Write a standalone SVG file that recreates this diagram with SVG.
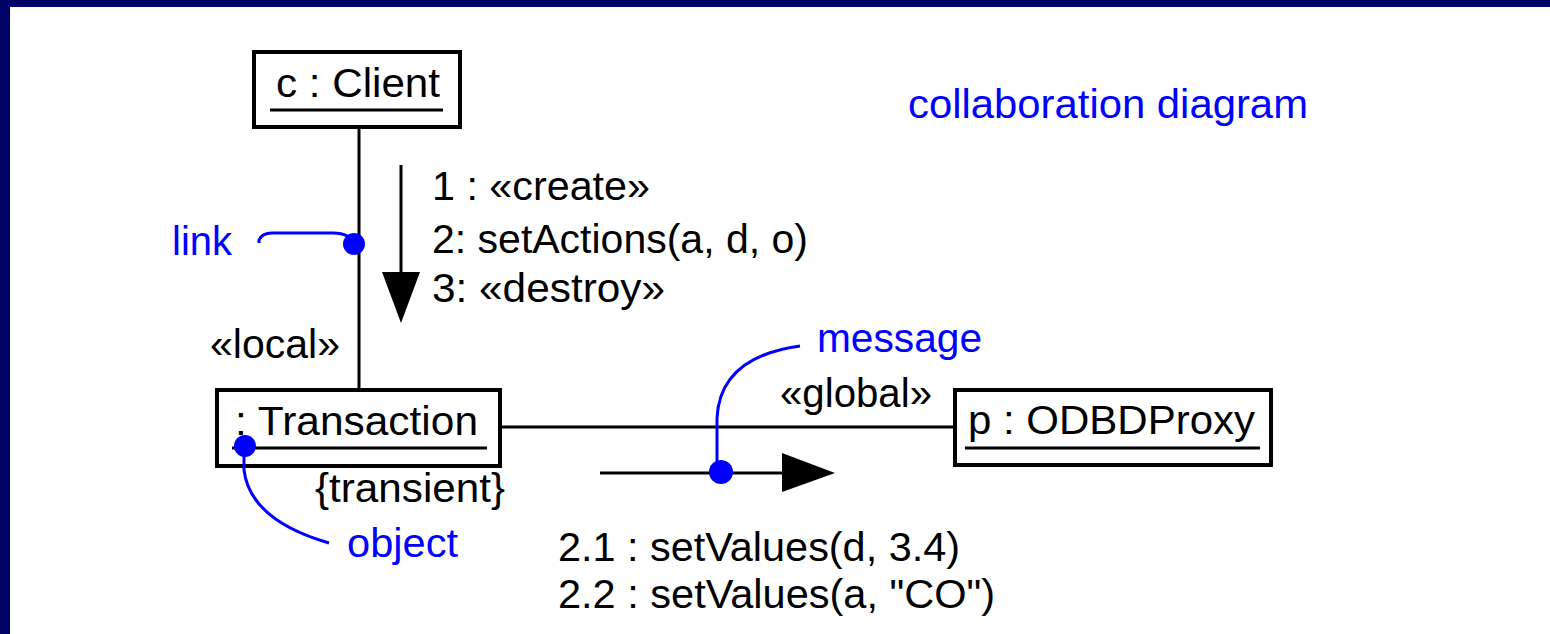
<svg xmlns="http://www.w3.org/2000/svg" width="1550" height="634" viewBox="0 0 1550 634">
  <style>
    .frame { fill: #000066; }
    .box { fill: #ffffff; stroke: #000000; stroke-width: 4; }
    .uline { stroke: #000000; stroke-width: 3; }
    .conn { fill: none; stroke: #000000; stroke-width: 3; }
    .head { fill: #000000; stroke: none; }
    .note { fill: none; stroke: #0000ff; stroke-width: 3; }
    .dot { fill: #0000ff; }
    text { font-family: "Liberation Sans", Arial, sans-serif; font-size: 40px; fill: #000000; }
    .name { font-size: 41px; }
    .blue { fill: #0000ff; }
  </style>

  <!-- page background and frame bars -->
  <rect x="0" y="0" width="1550" height="634" fill="#ffffff"/>
  <rect class="frame" x="0" y="0" width="1550" height="7"/>
  <rect class="frame" x="0" y="0" width="10" height="634"/>

  <!-- links between objects -->
  <g id="connectors">
    <line class="conn" x1="359" y1="129" x2="359" y2="389"/>
    <line class="conn" x1="501" y1="427" x2="954" y2="427"/>
    <text x="210" y="358" textLength="130" lengthAdjust="spacingAndGlyphs">«local»</text>
    <text x="780" y="407" textLength="152" lengthAdjust="spacingAndGlyphs">«global»</text>
  </g>

  <!-- objects -->
  <g id="client">
    <rect class="box" x="254" y="52" width="206" height="75"/>
    <text class="name" x="276" y="97" textLength="164" lengthAdjust="spacingAndGlyphs">c : Client</text>
    <line class="uline" x1="270" y1="110" x2="443" y2="110"/>
  </g>

  <g id="transaction">
    <rect class="box" x="217" y="390" width="283" height="76"/>
    <text class="name" x="235" y="435" textLength="243" lengthAdjust="spacingAndGlyphs">: Transaction</text>
    <line class="uline" x1="232" y1="448" x2="487" y2="448"/>
    <text x="315" y="502" textLength="190" lengthAdjust="spacingAndGlyphs">{transient}</text>
  </g>

  <g id="proxy">
    <rect class="box" x="955" y="390" width="316" height="75"/>
    <text class="name" x="968" y="434" textLength="287" lengthAdjust="spacingAndGlyphs">p : ODBDProxy</text>
    <line class="uline" x1="965" y1="448" x2="1260" y2="448"/>
  </g>

  <!-- messages -->
  <g id="msg-client-transaction">
    <line class="conn" x1="401" y1="165" x2="401" y2="274"/>
    <polygon class="head" points="382,272 420,272 401,323"/>
    <text x="432" y="200" textLength="218" lengthAdjust="spacingAndGlyphs">1 : «create»</text>
    <text x="432" y="253" textLength="376" lengthAdjust="spacingAndGlyphs">2: setActions(a, d, o)</text>
    <text x="432" y="302" textLength="233" lengthAdjust="spacingAndGlyphs">3: «destroy»</text>
  </g>

  <g id="msg-transaction-proxy">
    <line class="conn" x1="600" y1="473" x2="784" y2="473"/>
    <polygon class="head" points="782,453 782,492 835,473"/>
    <text x="558" y="561" textLength="402" lengthAdjust="spacingAndGlyphs">2.1 : setValues(d, 3.4)</text>
    <text x="558" y="608" textLength="437" lengthAdjust="spacingAndGlyphs">2.2 : setValues(a, "CO")</text>
  </g>

  <!-- annotations -->
  <g id="title">
    <text class="blue" x="908" y="118" textLength="400" lengthAdjust="spacingAndGlyphs">collaboration diagram</text>
  </g>

  <g id="note-link">
    <path class="note" d="M259,243 L259,240 Q262,233 272,233 L333,233 Q350,233 354,244"/>
    <circle class="dot" cx="354" cy="244" r="11"/>
    <text class="blue" x="172" y="255" textLength="60" lengthAdjust="spacingAndGlyphs">link</text>
  </g>

  <g id="note-object">
    <path class="note" d="M244,446 L244,470 Q250,520 329,543"/>
    <circle class="dot" cx="245" cy="446" r="11"/>
    <text class="blue" x="347" y="557" textLength="111" lengthAdjust="spacingAndGlyphs">object</text>
  </g>

  <g id="note-message">
    <path class="note" d="M717,473 L717,418 Q720,357 800,346"/>
    <circle class="dot" cx="721" cy="472" r="12"/>
    <text class="blue" x="817" y="352" textLength="165" lengthAdjust="spacingAndGlyphs">message</text>
  </g>
</svg>
